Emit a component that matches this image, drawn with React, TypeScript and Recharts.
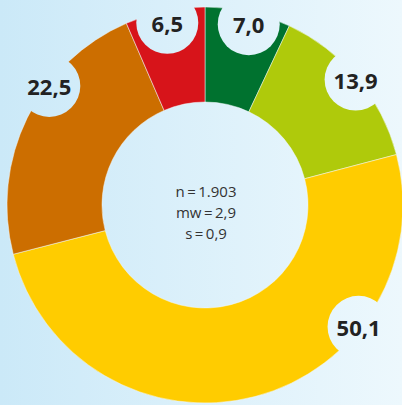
import React from 'react';
import { PieChart, Pie, Cell } from 'recharts';

// shares in percent, clockwise from the top
const shares = [7.0, 13.9, 50.1, 22.5, 6.5];
const colors = ['#00722f', '#afca0b', '#ffcc00', '#cc6e00', '#d7141a'];
const stats = ['n\u2009=\u20091.903', 'mw\u2009=\u20092,9', 's\u2009=\u20090,9'];

// label nudges (degrees counter-clockwise, radial px)
const labelTurn = [-1, 0, 37, -11.3, 0];
const labelPush = [-10, 0, 0, 0, -10];

const data = shares.map((v, i) => ({ name: `s${i}`, value: v }));

const RAD = Math.PI / 180;

const renderLabel = (props: any) => {
  const { cx, cy, midAngle, outerRadius, index, value } = props;
  const a = (midAngle + labelTurn[index]) * RAD;
  const r = outerRadius - 2 + labelPush[index];
  const x = cx + r * Math.cos(-a);
  const y = cy + r * Math.sin(-a);
  return (
    <g>
      <circle cx={x} cy={y} r={31} fill="url(#bgGrad)" />
      <text
        x={x}
        y={y}
        textAnchor="middle"
        dominantBaseline="central"
        fontFamily="'Open Sans', sans-serif"
        fontWeight={700}
        fontSize={22}
        fill="#222"
      >
        {value.toFixed(1).replace('.', ',')}
      </text>
    </g>
  );
};

const App: React.FC = () => {
  return (
    <div
      style={{
        position: 'absolute',
        left: 0,
        top: 0,
        width: 402,
        height: 405,
        overflow: 'hidden',
        background: 'linear-gradient(to right, #cbe9f8, #edf8fd)',
      }}
    >
      <svg width={0} height={0} style={{ position: 'absolute' }}>
        <defs>
          <linearGradient id="bgGrad" gradientUnits="userSpaceOnUse" x1={0} y1={0} x2={402} y2={0}>
            <stop offset="0%" stopColor="#cbe9f8" />
            <stop offset="100%" stopColor="#edf8fd" />
          </linearGradient>
        </defs>
      </svg>
      <PieChart width={402} height={405} margin={{ top: 0, right: 0, bottom: 0, left: 0 }}>
        <Pie
          data={data}
          dataKey="value"
          cx={205}
          cy={205}
          innerRadius={103}
          outerRadius={198}
          startAngle={90}
          endAngle={-270}
          stroke="#f2f8fb"
          strokeWidth={0.5}
          label={renderLabel}
          labelLine={false}
          isAnimationActive={false}
        >
          {data.map((d, i) => (
            <Cell key={d.name} fill={colors[i]} />
          ))}
        </Pie>
      </PieChart>
      <div
        style={{
          position: 'absolute',
          left: 105,
          top: 181,
          width: 202,
          textAlign: 'center',
          fontFamily: "'Open Sans', sans-serif",
          fontSize: 15,
          lineHeight: '21px',
          color: '#333',
        }}
      >
        {stats.map((s) => (
          <div key={s}>{s}</div>
        ))}
      </div>
    </div>
  );
};

export default App;
